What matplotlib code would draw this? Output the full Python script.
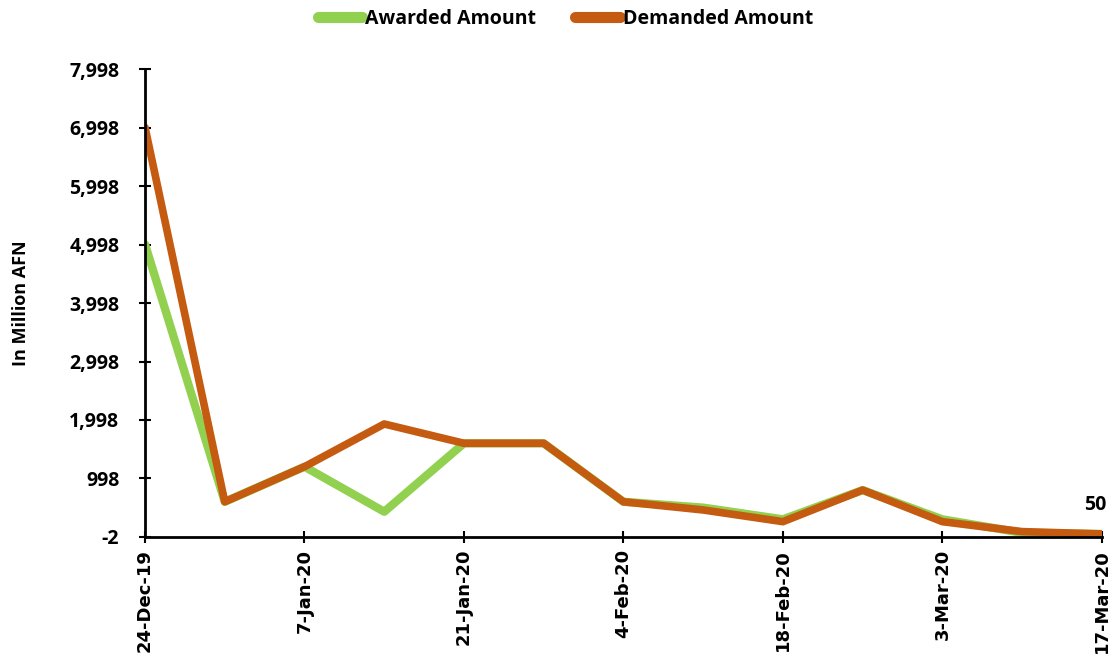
import matplotlib
matplotlib.use("Agg")
import matplotlib.pyplot as plt
import pandas as pd

dates = pd.date_range("2019-12-24", "2020-03-17", freq="7D")
awarded = [5000, 600, 1200, 430, 1600, 1600, 600, 500, 300, 800, 300, 70, 50]
demanded = [7000, 600, 1200, 1930, 1600, 1600, 600, 460, 260, 800, 260, 90, 50]
yticks = list(range(-2, 8000, 1000))
xtick_dates = pd.date_range("2019-12-24", "2020-03-17", freq="14D")

plt.rcParams['font.family'] = ['Open Sans', 'DejaVu Sans']

fig = plt.figure(figsize=(11.13, 6.61), dpi=100)
ax = fig.add_axes([0.1303, 0.1876, 0.8597, 0.708])

ax.plot(dates, awarded, color='#92D050', lw=6, solid_capstyle='round', solid_joinstyle='round', label='Awarded Amount')
ax.plot(dates, demanded, color='#C55A11', lw=5.5, solid_capstyle='round', solid_joinstyle='round', label='Demanded Amount')

ax.set_ylim(-2, 7998)
ax.set_xlim(dates[0], dates[-1])
ax.set_yticks(yticks)
ax.set_yticklabels([f"{v:,}" for v in yticks], fontsize=14, fontweight='bold')
ax.set_xticks(xtick_dates)
ax.set_xticklabels([d.strftime('%-d-%b-%y') for d in xtick_dates], rotation=90,
                   fontsize=13, fontweight='bold', family='DejaVu Sans')
ax.tick_params(axis='both', direction='inout', length=9, width=1.5, color='black')
ax.tick_params(axis='y', pad=14)
ax.tick_params(axis='x', pad=4)

for s in ['top', 'right']:
    ax.spines[s].set_visible(False)
for s in ['left', 'bottom']:
    ax.spines[s].set_linewidth(2)
    ax.spines[s].set_color('black')

ax.set_ylabel('In Million AFN', fontsize=13, fontweight='bold', labelpad=28)

ax.annotate(f"{demanded[-1]}", xy=(dates[-1], demanded[-1]), xytext=(-5, 14),
            textcoords='offset points', ha='center', va='bottom', fontsize=14, fontweight='bold')

leg = fig.legend(loc='upper center', bbox_to_anchor=(0.508, 1.013), ncol=2, frameon=False,
                 prop={'size': 14, 'weight': 'bold'}, handlelength=2.3, handletextpad=0.15,
                 columnspacing=2.0)
for l in leg.get_lines():
    l.set_linewidth(8)

fig.savefig('out.png', dpi=100)
